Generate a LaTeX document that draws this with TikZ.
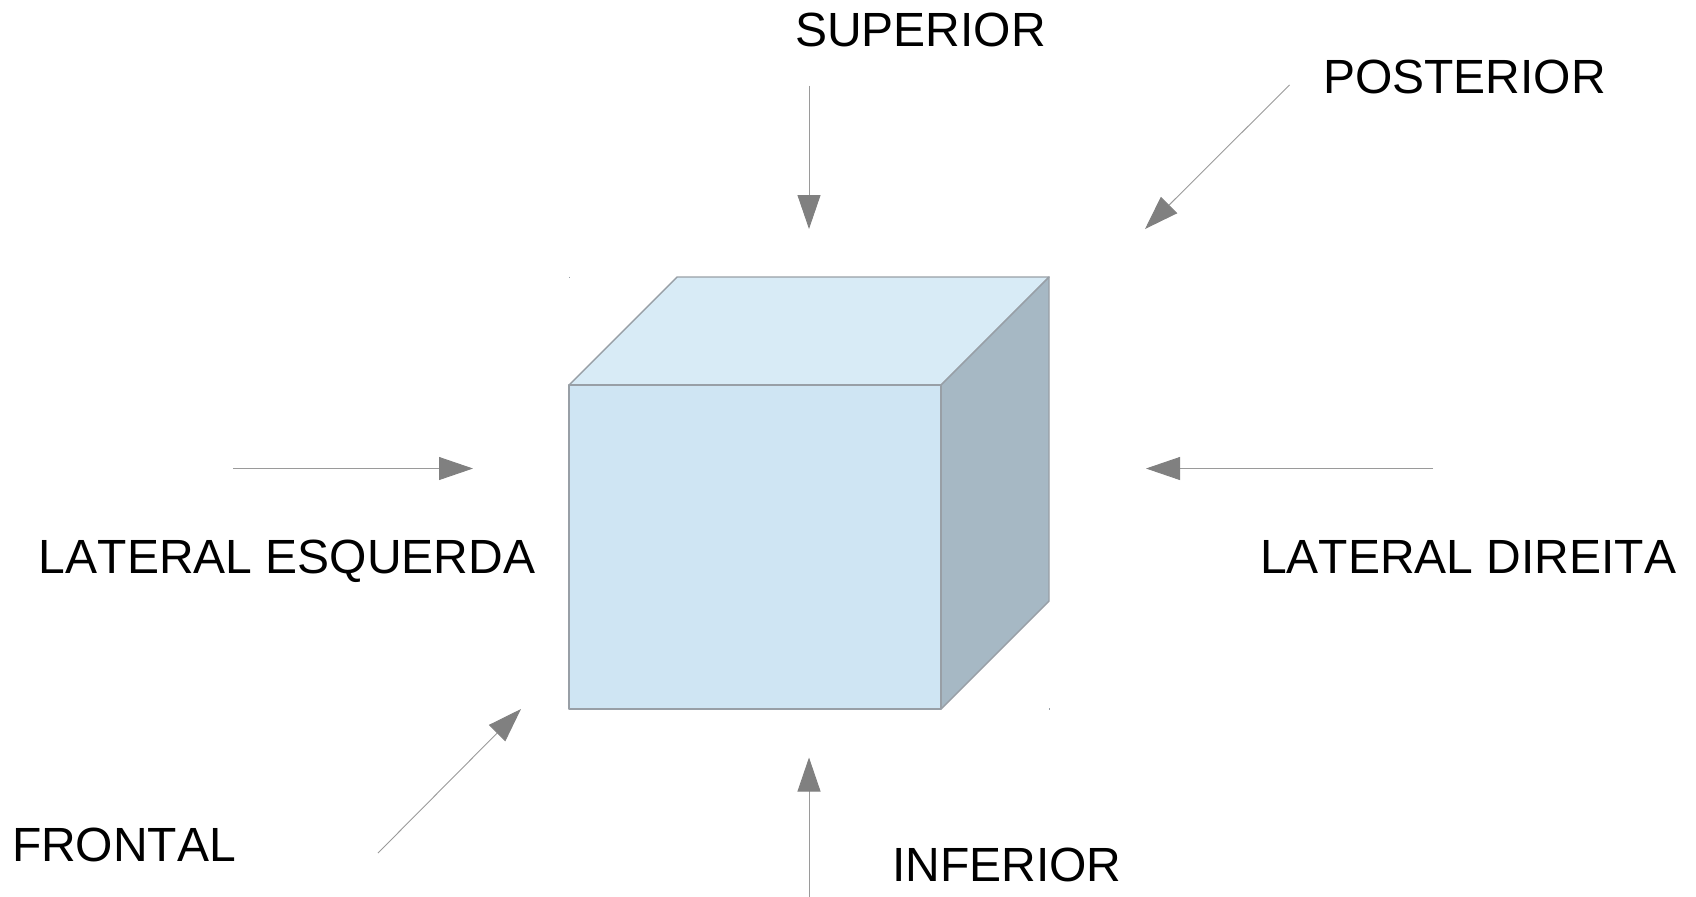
\documentclass[tikz,border=0pt]{standalone}
\usepackage{fontspec}
\setmainfont[Kerning=Off]{Liberation Sans}
\usetikzlibrary{arrows.meta}
\definecolor{frontc}{HTML}{CFE5F3}
\definecolor{topc}{HTML}{D8EBF6}
\definecolor{sidec}{HTML}{A6B8C4}
\definecolor{edgec}{HTML}{989FA6}
\definecolor{arrowc}{HTML}{808080}
\definecolor{linec}{HTML}{9A9A9A}
\tikzset{
  face/.style={draw=edgec,line width=0.7pt,line join=round},
  viewarrow/.style={draw=linec,line width=0.45pt,-{Triangle[length=17pt,width=11.5pt,color=arrowc,fill=arrowc]}},
  viewlabel/.style={anchor=base west,inner sep=0pt,outer sep=0pt,font=\fontsize{24pt}{28pt}\selectfont,text=black},
  speck/.style={draw=edgec,line width=0.4pt}
}
\begin{document}
\begin{tikzpicture}[x=0.5pt,y=-0.5pt]
\useasboundingbox (0,0) rectangle (1696,896);
% cube corners
\coordinate (ftl) at (569,385);
\coordinate (ftr) at (941,385);
\coordinate (fbl) at (569,709);
\coordinate (fbr) at (941,709);
\coordinate (btl) at (677,277);
\coordinate (btr) at (1049,277);
\coordinate (bbr) at (1049,601);
\draw[face,fill=topc] (ftl) -- (btl) -- (btr) -- (ftr) -- cycle;
\draw[face,fill=sidec] (ftr) -- (btr) -- (bbr) -- (fbr) -- cycle;
\draw[face,fill=frontc] (ftl) -- (ftr) -- (fbr) -- (fbl) -- cycle;
% corner specks of the shape's frame
\coordinate (s1a) at (569,276.5); \coordinate (s1b) at (569,278);
\coordinate (s2a) at (1049,708); \coordinate (s2b) at (1049,709.5);
\draw[speck] (s1a) -- (s1b);
\draw[speck] (s2a) -- (s2b);
% arrow ends
\coordinate (supT) at (809,85.5);    \coordinate (supH) at (809,229);
\coordinate (posT) at (1289.5,85);   \coordinate (posH) at (1145,229);
\coordinate (lesT) at (233,468.5);   \coordinate (lesH) at (473,468.5);
\coordinate (ldiT) at (1433,468.5);  \coordinate (ldiH) at (1146,468.5);
\coordinate (froT) at (378,853);     \coordinate (froH) at (521,709);
\coordinate (infT) at (809,898);     \coordinate (infH) at (809,757.5);
\draw[viewarrow] (supT) -- (supH);
\draw[viewarrow] (posT) -- (posH);
\draw[viewarrow] (lesT) -- (lesH);
\draw[viewarrow] (ldiT) -- (ldiH);
\draw[viewarrow] (froT) -- (froH);
\draw[viewarrow] (infT) -- (infH);
% labels
\node[viewlabel] (lsup) at (795,46) {SUPERIOR};
\node[viewlabel] (lpos) at (1323,93) {POSTERIOR};
\node[viewlabel] (lles) at (39,573) {LATERAL ESQUERDA};
\node[viewlabel] (ldi)  at (1260,573) {LATERAL DIREITA};
\node[viewlabel] (lfro) at (12,861) {FRONTAL};
\node[viewlabel] (linf) at (892,881) {INFERIOR};
\end{tikzpicture}
\end{document}
